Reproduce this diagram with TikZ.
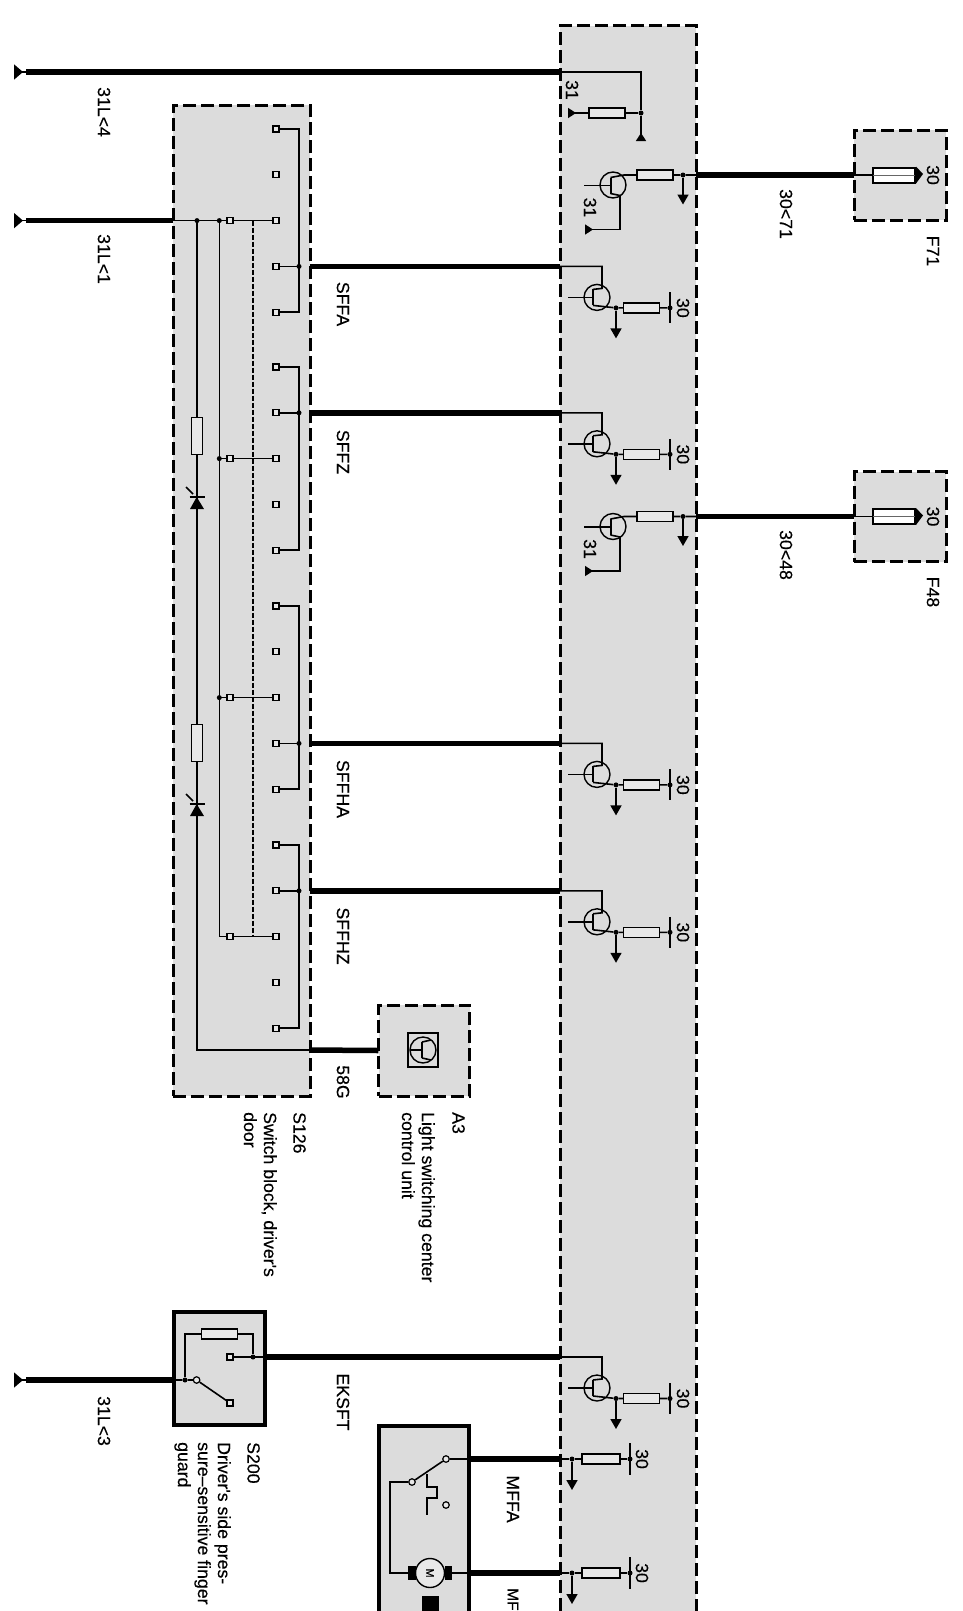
\documentclass[tikz,border=0pt]{standalone}
\usepackage{fontspec}
\setmainfont{Liberation Sans}
\newfontfamily\lblfont[FakeBold=0.3]{Liberation Sans}
\usetikzlibrary{arrows.meta}

\definecolor{boxgray}{HTML}{DCDCDC}
\definecolor{resgray}{HTML}{E8E8E8}

\tikzset{
    wire/.style={line width=1.6pt},
    thickwire/.style={line width=5.5pt},
    dashbox/.style={draw, fill=boxgray, line width=3pt, dash pattern=on 13pt off 5pt, inner sep=0, outer sep=0},
    solidbox/.style={draw, fill=boxgray, line width=4.5pt, inner sep=0, outer sep=0},
    resistor/.style={draw, fill=resgray, line width=1.4pt, minimum width=36pt, minimum height=10pt, inner sep=0},
    contact/.style={draw, fill=resgray, line width=1.3pt, minimum size=6pt, inner sep=0},
    opencirc/.style={draw, circle, fill=resgray, line width=1.2pt, minimum size=6.5pt, inner sep=0},
    jdot/.style={circle, fill=black, minimum size=5pt, inner sep=0},
    transcirc/.style={draw, circle, line width=1.4pt, minimum size=26pt, inner sep=0},
    lbl/.style={rotate=-90, font=\lblfont\fontsize{17.7}{20}\selectfont, inner sep=0},
    lblblock/.style={lbl, anchor=north west, align=left},
    downtip/.style={-{Triangle[length=10pt,width=11pt]}},
    smallgnd/.style={{Triangle[reversed,length=8pt,width=10pt]}-},
    biggnd/.style={{Triangle[reversed,length=9pt,width=15pt]}-},
}

% transistor stage, wire comes in from the switch side
\newcommand{\basetrans}[3]{
    \coordinate (#1-out) at (#3,#2);
    \coordinate (#1-in) at (560,#2);
    \coordinate (#1-col) at (602,#2);
    \node (#1-t) [transcirc] at (597,{#2+31}) {};
    \coordinate (#1-bar1) at (593,{#2+23});
    \coordinate (#1-bar2) at (593,{#2+39});
    \coordinate (#1-b) at (568,{#2+31});
    \coordinate (#1-bc) at (593,{#2+31});
    \node (#1-j) [jdot] at (616,{#2+41.5}) {};
    \node (#1-r) [resistor] at (641.5,{#2+41.5}) {};
    \node (#1-v) [jdot] at (670,{#2+41.5}) {};
    \coordinate (#1-v1) at (670,{#2+26});
    \coordinate (#1-v2) at (670,{#2+57});
    \coordinate (#1-down) at (616,{#2+72});
    \coordinate (#1-c2) at (602,{#2+22});
    \draw[thickwire] (#1-out) -- (#1-in);
    \draw[wire] (#1-in) -- (#1-col) -- (#1-c2) -- (#1-bar1);
    \draw[wire] (#1-b) -- (#1-bc);
    \draw[line width=2pt] (#1-bar1) -- (#1-bar2);
    \draw[wire] (#1-bar2) -- (#1-j) -- (#1-r) -- (#1-v);
    \draw[wire] (#1-v1) -- (#1-v2);
    \draw[wire, downtip] (#1-j) -- (#1-down);
    \node (#1-l) [lbl] at (683,{#2+41.5}) {30};
}

% fused stage on the right, with its box
\newcommand{\fusetrans}[3]{
    \node (#1-t) [transcirc] at (613,{#2+10.5}) {};
    \coordinate (#1-bar1) at (610.5,{#2+3});
    \coordinate (#1-bar2) at (610.5,{#2+19});
    \coordinate (#1-b) at (584,{#2+11});
    \coordinate (#1-bc) at (610.5,{#2+11});
    \coordinate (#1-cc) at (624,{#2+0.5});
    \coordinate (#1-ec) at (620,{#2+21});
    \coordinate (#1-ecd) at (620,{#2+55});
    \coordinate (#1-g) at (585,{#2+55});
    \node (#1-r) [resistor] at (655,{#2+0.5}) {};
    \node (#1-j) [jdot] at (683,{#2+0.5}) {};
    \coordinate (#1-down) at (683,{#2+30});
    \coordinate (#1-edge) at (696,{#2+0.5});
    \node (#1-box) [dashbox, minimum width=92pt, minimum height=90pt] at (900,{#2+0.5}) {};
    \coordinate (#1-f) at (873,{#2+0.5});
    \node (#1-fuse) [draw, fill=white, line width=2pt, minimum width=42pt, minimum height=15pt, inner sep=0] at (894,{#2+0.5}) {};
    \coordinate (#1-fe) at (915,{#2+0.5});
    \draw[thickwire] (#1-edge) -- (#1-box.west);
    \draw[wire] (#1-box.west) -- (#1-fuse);
    \draw[line width=1pt, black!60] (#1-f) -- (#1-fe);
    \fill (#1-fuse.north east) -- ++(7,7.5) -- (#1-fuse.south east) -- cycle;
    \draw[wire] (#1-b) -- (#1-bc);
    \draw[line width=2pt] (#1-bar1) -- (#1-bar2);
    \draw[wire] (#1-bar1) -- (#1-cc) -- (#1-r) -- (#1-j) -- (#1-edge);
    \draw[wire, downtip] (#1-j) -- (#1-down);
    \draw[wire] (#1-bar2) -- (#1-ec);
    \draw[wire, smallgnd] (#1-g) -- (#1-ecd) -- (#1-ec);
    \node (#1-l31) [lbl] at (590,{#2+33}) {31};
    \node (#1-l30) [lbl] at (933,{#2+0.5}) {30};
}

% lamp resistor and diode on the 197 line
\newcommand{\lampres}[2]{
    \node (#1-r) [resistor, rotate=90, minimum width=37pt, minimum height=11pt] at (196.7,#2) {};
    \fill (190,{#2+73}) -- (204,{#2+73}) -- (196.7,{#2+61}) -- cycle;
    \draw[line width=1.6pt] (189.5,{#2+61}) -- (205,{#2+61});
    \draw[line width=1.6pt] (186,{#2+51}) -- (193,{#2+58});
}

\begin{document}
\begin{tikzpicture}[x=1pt,y=-1pt]
    \useasboundingbox (0,0) rectangle (963,1611);

    % big module, runs off the page
    \fill[boxgray] (560,26) rectangle (696,1611);
    \coordinate (mod-a) at (560,1611);
    \coordinate (mod-b) at (560,26);
    \coordinate (mod-c) at (696,26);
    \coordinate (mod-d) at (696,1611);

    \node (s126) [dashbox, minimum width=137pt, minimum height=991pt] at (241.5,600.5) {};
    \node (a3) [dashbox, minimum width=91pt, minimum height=91pt] at (424,1050.5) {};
    \node (s200) [solidbox, minimum width=91pt, minimum height=113pt] at (219.5,1368.5) {};
    \fill[boxgray] (379,1426) rectangle (469,1611);
    \coordinate (mot-a) at (379,1611);
    \coordinate (mot-b) at (379,1426);
    \coordinate (mot-c) at (469,1426);
    \coordinate (mot-d) at (469,1611);
    \draw[line width=4.5pt] (mot-a) -- (mot-b) -- (mot-c) -- (mot-d);

    % top wire 31L<4
    \coordinate (g4) at (14,72);
    \coordinate (w4) at (26,72);
    \coordinate (m4) at (560,72);
    \coordinate (m4c) at (641,72);
    \node (m4j) [jdot] at (641,113) {};
    \coordinate (m4e) at (641,141);
    \coordinate (m4g) at (568,113);
    \node (m4r) [resistor] at (607,113) {};
    \draw[wire, biggnd] (g4) -- (w4);
    \draw[thickwire] (w4) -- (m4);
    \draw[wire] (m4) -- (m4c) -- (m4j);
    \draw[wire, -{Triangle[reversed,length=8pt,width=10pt]}] (m4j) -- (m4e);
    \draw[wire, smallgnd] (m4g) -- (m4r);
    \draw[wire] (m4r) -- (m4j);
    \node (m4l) [lbl] at (572,90) {31};

    \fusetrans{t71}{174.5}{71}
    \fusetrans{t48}{516}{48}

    \basetrans{sffa}{266.4}{310}
    \basetrans{sffz}{412.8}{310}
    \basetrans{sffha}{743.4}{310}
    \basetrans{sffhz}{890.8}{310}
    \basetrans{eksft}{1357}{265}

    % switch block contacts
    \foreach \g [count=\n] in {129,367,606,845} {
        \foreach \i in {0,...,4} {
            \node (c\n-\i) [contact] at (276,{\g+45.8*\i}) {};
            \coordinate (b\n-\i) at (299,{\g+45.8*\i});
        }
        \draw[line width=1.8pt] (c\n-0) -- (b\n-0) -- (b\n-4) -- (c\n-4);
    }
    \foreach \n/\i in {1/3,2/1,3/3,4/1} {
        \draw[wire] (c\n-\i) -- (b\n-\i);
        \node (d\n) [jdot] at (b\n-\i) {};
    }

    % 31L<1 and the three lines going down
    \coordinate (g1) at (14,220.6);
    \coordinate (w1) at (26,220.6);
    \coordinate (e1) at (173,220.6);
    \node (j1) [jdot] at (197,220.6) {};
    \node (j2) [jdot] at (219.3,220.6) {};
    \coordinate (j2e) at (219.3,936.6);
    \coordinate (d1) at (253,220.6);
    \coordinate (d2) at (253,936.6);
    \coordinate (low) at (197,1050);
    \coordinate (lowe) at (310,1050);
    \draw[wire, biggnd] (g1) -- (w1);
    \draw[thickwire] (w1) -- (e1);
    \draw[wire] (j1) -- (low) -- (lowe);
    \draw[wire] (j2) -- (j2e);
    \draw[line width=1.7pt, dash pattern=on 5pt off 2pt] (d1) -- (d2);
    \foreach \n/\y in {1/220.6,2/458.6,3/697.6,4/936.6} {
        \coordinate (k\n) at (219.3,\y);
        \node (q\n) [contact] at (230,\y) {};
    }
    \draw[wire] (e1) -- (q1);
    \draw[wire] (q1) -- (c1-2);
    \draw[wire] (k2) -- (q2) -- (c2-2);
    \draw[wire] (k3) -- (q3) -- (c3-2);
    \draw[wire] (k4) -- (q4) -- (c4-2);
    \node (k2d) [jdot] at (k2) {};
    \node (k3d) [jdot] at (k3) {};
    \lampres{la}{436}
    \lampres{lb}{743}

    % A3
    \draw[thickwire] (lowe) -- (a3.west);
    \node (a3s) [draw, line width=1.6pt, minimum width=30pt, minimum height=34pt, inner sep=0] at (423,1050) {};
    \node (a3t) [transcirc] at (423,1050) {};
    \coordinate (a3b) at (410,1050);
    \coordinate (a3c) at (422,1050);
    \coordinate (a3u) at (422,1042);
    \coordinate (a3v) at (422,1058);
    \coordinate (a3p) at (431,1040);
    \coordinate (a3q) at (431,1060);
    \draw[wire] (a3b) -- (a3c);
    \draw[line width=2.5pt] (a3u) -- (a3v);
    \draw[wire] (a3u) -- (a3p);
    \draw[wire] (a3v) -- (a3q);

    % S200
    \coordinate (g3) at (14,1380);
    \coordinate (w3) at (26,1380);
    \node (s200j) [jdot] at (185,1380) {};
    \node (s200o) [opencirc] at (196.6,1380) {};
    \node (s200a) [contact] at (230,1403) {};
    \node (s200b) [contact] at (230,1357) {};
    \node (s200k) [jdot] at (253,1357) {};
    \node (s200r) [resistor] at (219.5,1334) {};
    \coordinate (s200p) at (185,1334);
    \coordinate (s200q) at (253,1334);
    \draw[wire, biggnd] (g3) -- (w3);
    \draw[thickwire] (w3) -- (s200.west |- w3);
    \draw[wire] (s200.west |- w3) -- (s200j) -- (s200o) -- (s200a);
    \draw[wire] (s200j) -- (s200p) -- (s200r) -- (s200q) -- (s200k);
    \draw[wire] (s200b) -- (eksft-out);

    % motor box
    \coordinate (mf1) at (469,1459);
    \coordinate (mf1i) at (560,1459);
    \coordinate (mf2) at (469,1573);
    \coordinate (mf2i) at (560,1573);
    \draw[thickwire] (mf1) -- (mf1i);
    \draw[thickwire] (mf2) -- (mf2i);
    \foreach \n/\y in {1/1459,2/1573} {
        \node (mj\n) [jdot] at (572,\y) {};
        \node (mr\n) [resistor, minimum width=38pt] at (601,\y) {};
        \node (mv\n) [jdot] at (630,\y) {};
        \coordinate (mv\n a) at (630,{\y-16});
        \coordinate (mv\n b) at (630,{\y+16});
        \coordinate (md\n) at (572,{\y+31});
        \draw[wire] (mf\n i) -- (mj\n) -- (mr\n) -- (mv\n);
        \draw[wire] (mv\n a) -- (mv\n b);
        \draw[wire, downtip] (mj\n) -- (md\n);
        \node (ml\n) [lbl] at (642,\y) {30};
    }
    \node (sw1) [opencirc] at (446,1459) {};
    \node (sw2) [opencirc] at (412,1482) {};
    \node (sw3) [opencirc] at (446,1505) {};
    \node (motor) [draw, circle, fill=resgray, line width=1.4pt, minimum size=29pt, inner sep=0] at (430,1573) {};
    \fill (408,1566) rectangle (416,1580);
    \fill (445,1566) rectangle (452,1580);
    \node (motorm) [rotate=-90, inner sep=0, font=\lblfont\fontsize{11}{11}\selectfont] at (430,1573) {M};
    \fill (422,1596) rectangle (439,1611);
    \coordinate (mc1) at (390,1482);
    \coordinate (mc2) at (390,1573);
    \coordinate (th0) at (427,1474);
    \coordinate (th1) at (427,1487);
    \coordinate (th2) at (437,1487);
    \coordinate (th3) at (437,1498);
    \coordinate (th4) at (427,1498);
    \coordinate (th5) at (427,1515);
    \draw[wire] (mf1) -- (sw1) -- (sw2) -- (mc1) -- (mc2) -- (motor);
    \draw[wire] (motor) -- (mf2);
    \draw[wire] (th0) -- (th1) -- (th2) -- (th3) -- (th4) -- (th5);

    % module outline last so that it sits over the wires
    \draw[line width=3pt, dash pattern=on 13pt off 5pt] (mod-a) -- (mod-b) -- (mod-c) -- (mod-d);

    % labels
    \node (l1) [lbl] at (104,112) {31L<4};
    \node (l2) [lbl] at (104,259) {31L<1};
    \node (l3) [lbl] at (104,1421) {31L<3};
    \node (l4) [lbl] at (786,214) {30<71};
    \node (l5) [lbl] at (786,555) {30<48};
    \node (l6) [lbl] at (933,251) {F71};
    \node (l7) [lbl] at (933,592) {F48};
    \node (l8) [lbl] at (343,304) {SFFA};
    \node (l9) [lbl] at (343,452) {SFFZ};
    \node (l10) [lbl] at (343,789) {SFFHA};
    \node (l11) [lbl] at (343,936) {SFFHZ};
    \node (l12) [lbl] at (343,1082) {58G};
    \node (l13) [lbl] at (343,1402) {EKSFT};
    \node (l14) [lbl] at (513,1499) {MFFA};
    \node (l15) [lbl, anchor=west, font=\lblfont\fontsize{15.5}{20}\selectfont] at (513,1588) {MF};
    \node (l16) [lblblock] at (306,1112) {S126};
    \node (l17) [lblblock] at (277,1112) {Switch block, driver's\\door};
    \node (l18) [lblblock] at (465,1112) {A3};
    \node (l19) [lblblock] at (435,1112) {Light switching center\\control unit};
    \node (l20) [lblblock] at (260,1442) {S200};
    \node (l21) [lblblock] at (231,1442) {Driver's side pres-\\sure–sensitive finger\\guard};
\end{tikzpicture}
\end{document}
